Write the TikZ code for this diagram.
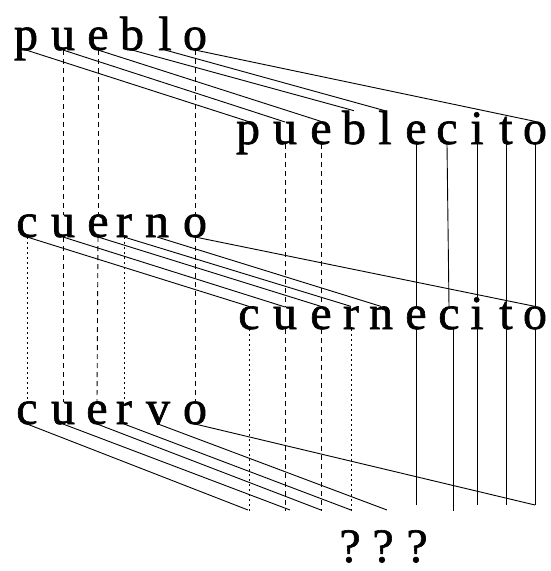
\documentclass[tikz,border=0pt]{standalone}
\usepackage{fontspec}
\setmainfont{Liberation Serif}
\newfontfamily\heavyserif[FakeBold=1.3]{Liberation Serif}
\begin{document}
\begin{tikzpicture}[x=1pt,y=-1pt,
  ltr/.style={inner sep=0pt,outer sep=0pt,anchor=base,font=\heavyserif\fontsize{48}{52}\selectfont},
  link/.style={line width=0.9pt},
  dashv/.style={line width=0.9pt,dash pattern=on 5pt off 4pt},
  dotv/.style={line width=1pt,dash pattern=on 1.6pt off 3.4pt}]
\useasboundingbox (0,0) rectangle (551,571);
% pueblo
\node[ltr] (a1) at (26,50) {p};
\node[ltr] (a2) at (63,50) {u};
\node[ltr] (a3) at (98,50) {e};
\node[ltr] (a4) at (132,50) {b};
\node[ltr] (a5) at (165,50) {l};
\node[ltr] (a6) at (195,50) {o};
% pueblecito
\node[ltr] (b1) at (248,144) {p};
\node[ltr] (b2) at (285,144) {u};
\node[ltr] (b3) at (321,144) {e};
\node[ltr] (b4) at (354,144) {b};
\node[ltr] (b5) at (385,144) {l};
\node[ltr] (b6) at (416,144) {e};
\node[ltr] (b7) at (447,144) {c};
\node[ltr] (b8) at (477,144) {i};
\node[ltr] (b9) at (506,144) {t};
\node[ltr] (b10) at (535,144) {o};
% cuerno
\node[ltr] (c1) at (27,237) {c};
\node[ltr] (c2) at (63,237) {u};
\node[ltr] (c3) at (98,237) {e};
\node[ltr] (c4) at (124,237) {r};
\node[ltr] (c5) at (157,237) {n};
\node[ltr] (c6) at (195,237) {o};
% cuernecito
\node[ltr] (d1) at (249,329) {c};
\node[ltr] (d2) at (285,329) {u};
\node[ltr] (d3) at (321,329) {e};
\node[ltr] (d4) at (351,329) {r};
\node[ltr] (d5) at (381,329) {n};
\node[ltr] (d6) at (416,329) {e};
\node[ltr] (d7) at (449,329) {c};
\node[ltr] (d8) at (477,329) {i};
\node[ltr] (d9) at (506,329) {t};
\node[ltr] (d10) at (535,329) {o};
% cuervo
\node[ltr] (e1) at (27,424) {c};
\node[ltr] (e2) at (63,424) {u};
\node[ltr] (e3) at (97,424) {e};
\node[ltr] (e4) at (124,424) {r};
\node[ltr] (e5) at (158,424) {v};
\node[ltr] (e6) at (195,424) {o};
% ???
\node[ltr] (q1) at (350,562) {?};
\node[ltr] (q2) at (383,562) {?};
\node[ltr] (q3) at (417,562) {?};
% free ends
\coordinate (f1) at (248,510);
\coordinate (f2) at (290,510);
\coordinate (f3) at (321,510);
\coordinate (f4) at (351,510);
\coordinate (f5) at (387,510);
\coordinate (g1) at (249,511);
\coordinate (g2) at (285,511);
\coordinate (g3) at (321,511);
\coordinate (g4) at (351,511);
\coordinate (g6) at (416,505);
\coordinate (g7) at (453,511);
\coordinate (g8) at (477,505);
\coordinate (g9) at (506,505);
\coordinate (g10) at (535,505);
% pueblo -> pueblecito
\draw[link] (a1.base) -- (b1.north);
\draw[link] (a2.base) -- (b2.north);
\draw[link] (a3.base) -- (b3.north);
\draw[link] (a4.base) -- (b4.north);
\draw[link] (a5.base) -- (b5.north);
\draw[link] (a6.base) -- (b10.north);
% cuerno -> cuernecito
\draw[link] (c1.base) -- (d1.north);
\draw[link] (c2.base) -- (d2.north);
\draw[link] (c3.base) -- (d3.north);
\draw[link] (c4.base) -- (d4.north);
\draw[link] (c5.base) -- (d5.north);
\draw[link] (c6.base) -- (d10.north);
% cuervo -> ???
\draw[link] (e1.base) -- (f1);
\draw[link] (e2.base) -- (f2);
\draw[link] (e3.base) -- (f3);
\draw[link] (e4.base) -- (f4);
\draw[link] (e5.base) -- (f5);
\draw[link] (e6.base) -- (g10);
% dashed verticals
\draw[dashv] (a2.base) -- (c2.north);
\draw[dashv] (c2.base) -- (e2.north);
\draw[dashv] (a3.base) -- (c3.north);
\draw[dashv] (c3.base) -- (e3.north);
\draw[dashv] (a6.base) -- (c6.north);
\draw[dashv] (c6.base) -- (e6.north);
\draw[dashv] (b2.base) -- (d2.north);
\draw[dashv] (d2.base) -- (g2);
\draw[dashv] (b3.base) -- (d3.north);
\draw[dashv] (d3.base) -- (g3);
% dotted verticals
\draw[dotv] (c1.base) -- (e1.north);
\draw[dotv] (c4.base) -- (e4.north);
\draw[dotv] (d1.base) -- (g1);
\draw[dotv] (d4.base) -- (g4);
% solid verticals
\draw[link] (b6.base) -- (d6.north);
\draw[link] (d6.base) -- (g6);
\draw[link] (b7.base) -- (d7.north);
\draw[link] ([xshift=4pt]d7.base) -- (g7);
\draw[link] (b8.base) -- (d8.north);
\draw[link] (d8.base) -- (g8);
\draw[link] (b9.base) -- (d9.north);
\draw[link] (d9.base) -- (g9);
\draw[link] (b10.base) -- (d10.north);
\draw[link] (d10.base) -- (g10);
\end{tikzpicture}
\end{document}
